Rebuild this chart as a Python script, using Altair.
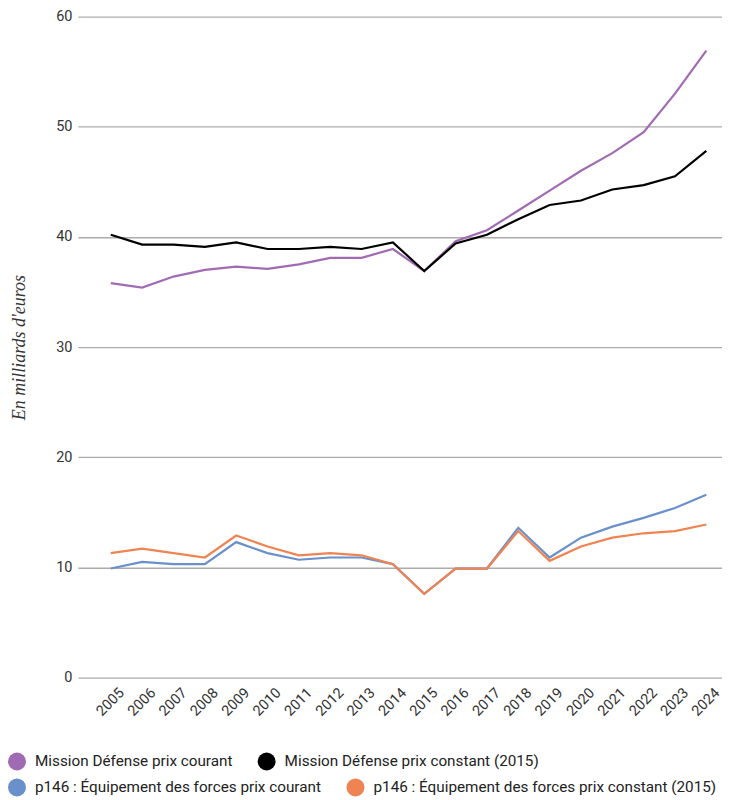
import altair as alt
import pandas as pd

years = list(range(2005, 2025))

series_names = [
    "Mission Défense prix courant",
    "Mission Défense prix constant (2015)",
    "p146 : Équipement des forces prix courant",
    "p146 : Équipement des forces prix constant (2015)",
]
series_colors = ["#a16bb3", "#000000", "#6a90cb", "#ef8452"]

mission_courant = [35.8, 35.4, 36.4, 37.0, 37.3, 37.1, 37.5, 38.1, 38.1, 38.9,
                   36.9, 39.6, 40.6, 42.4, 44.2, 46.0, 47.6, 49.5, 53.0, 56.9]
mission_constant = [40.2, 39.3, 39.3, 39.1, 39.5, 38.9, 38.9, 39.1, 38.9, 39.5,
                    36.9, 39.4, 40.2, 41.6, 42.9, 43.3, 44.3, 44.7, 45.5, 47.8]
p146_courant = [9.9, 10.5, 10.3, 10.3, 12.3, 11.3, 10.7, 10.9, 10.9, 10.3,
                7.6, 9.9, 9.9, 13.6, 10.9, 12.7, 13.7, 14.5, 15.4, 16.6]
p146_constant = [11.3, 11.7, 11.3, 10.9, 12.9, 11.9, 11.1, 11.3, 11.1, 10.3,
                 7.6, 9.9, 9.9, 13.3, 10.6, 11.9, 12.7, 13.1, 13.3, 13.9]

all_values = [mission_courant, mission_constant, p146_courant, p146_constant]

rows = []
for i, (name, vals) in enumerate(zip(series_names, all_values)):
    for y, v in zip(years, vals):
        rows.append({"annee": y, "valeur": v, "serie": name, "ordre": i})
df = pd.DataFrame(rows)

font = "Roboto"

x_enc = alt.X(
    "annee:Q",
    scale=alt.Scale(domain=[2003.95, 2024.5], nice=False, zero=False),
    axis=alt.Axis(
        values=years, format="d", labelAngle=-45, title=None, grid=False,
        ticks=False, domain=False, labelPadding=8, labelFont=font,
        labelFontSize=14.5, labelColor="#333333", labelOffset=6,
        labelOverlap=False,
    ),
)
y_enc = alt.Y(
    "valeur:Q",
    scale=alt.Scale(domain=[0, 60], nice=False),
    axis=alt.Axis(
        values=[0, 10, 20, 30, 40, 50, 60], title="En milliards d'euros",
        titleFont="Liberation Serif", titleFontStyle="italic", titleFontWeight="normal",
        titleFontSize=18, titleColor="#333333", titlePadding=27,
        labelFont=font, labelFontSize=14.5, labelColor="#333333", labelPadding=6,
        ticks=False, domain=False, grid=True, gridColor="#ababab", gridWidth=1.3,
    ),
)


def legend_at(y_off):
    return alt.Legend(
        title=None, orient="none", legendX=-70, legendY=y_off, columns=2,
        direction="horizontal", symbolType="circle", symbolSize=324,
        symbolStrokeWidth=0, symbolOpacity=1, labelFont=font, labelFontSize=15.3,
        labelColor="#222222", labelLimit=500, columnPadding=25, labelOffset=9,
    )


lines = alt.Chart(df).mark_line(strokeWidth=2.2).encode(
    x=x_enc,
    y=y_enc,
    color=alt.Color(
        "serie:N",
        scale=alt.Scale(domain=series_names, range=series_colors),
        legend=None,
    ),
    order=alt.Order("ordre:Q"),
    detail="ordre:Q",
)

legend_row1 = alt.Chart(df).transform_filter("datum.valeur < 0").mark_point(
    filled=True
).encode(
    x=x_enc,
    y=y_enc,
    color=alt.Color(
        "serie:N",
        scale=alt.Scale(domain=series_names[:2], range=series_colors[:2]),
        legend=legend_at(737),
    ),
)

legend_row2 = alt.Chart(df).transform_filter("datum.valeur < 0").mark_point(
    filled=True
).encode(
    x=x_enc,
    y=y_enc,
    color=alt.Color(
        "serie:N",
        scale=alt.Scale(domain=series_names[2:], range=series_colors[2:]),
        legend=legend_at(763),
    ),
)

chart = alt.layer(lines, legend_row1, legend_row2).resolve_scale(
    color="independent"
).properties(
    width=645, height=662, padding={"left": 0, "top": 0, "right": 0, "bottom": 0}
).configure_view(stroke=None)

chart.save("out.html", embed_options={"renderer": "svg", "actions": False})
